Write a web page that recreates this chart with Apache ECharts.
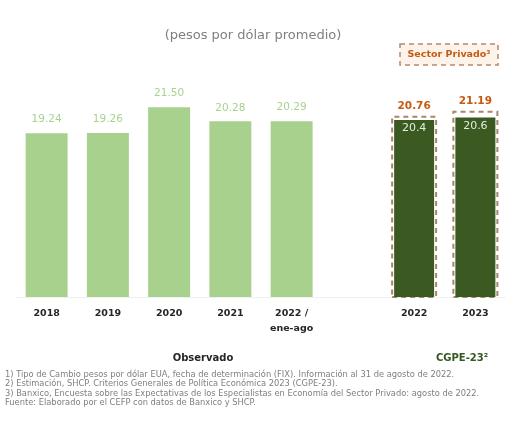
<!DOCTYPE html>
<html>
<head>
<meta charset="utf-8">
<script src="https://cdn.jsdelivr.net/npm/echarts@6/dist/echarts.min.js"></script>
<style>html,body{margin:0;padding:0;background:#fff;}#c{width:506px;height:431px;}</style>
</head>
<body>
<div id="c"></div>
<script>
var categories = ['2018', '2019', '2020', '2021', '2022 /\nene-ago', '', '2022', '2023'];
var observado = [19.24, 19.26, 21.50, 20.28, 20.29, null, null, null];
var sectorPrivado = [null, null, null, null, null, null, 20.76, 21.19];
var cgpe = [null, null, null, null, null, null, 20.4, 20.6];
var footnotes = [
  '1) Tipo de Cambio pesos por dólar EUA, fecha de determinación (FIX). Información al 31 de agosto de 2022.',
  '2) Estimación, SHCP. Criterios Generales de Política Económica 2023 (CGPE-23).',
  '3) Banxico, Encuesta sobre las Expectativas de los Especialistas en Economía del Sector Privado: agosto de 2022.',
  'Fuente: Elaborado por el CEFP con datos de Banxico y SHCP.'
];

var FONT = 'DejaVu Sans';
var chart = echarts.init(document.getElementById('c'), null, {renderer: 'canvas'});

function hiddenX() {
  return {type: 'category', data: categories, show: false, boundaryGap: true};
}

var option = {
  backgroundColor: '#ffffff',
  animation: false,
  textStyle: {fontFamily: FONT},
  title: {
    text: '(pesos por dólar promedio)',
    left: 'center',
    top: 24,
    textStyle: {fontSize: 13, fontWeight: 'normal', color: '#7f7f7f', fontFamily: FONT}
  },
  grid: {left: 16, right: -7, top: 67, bottom: 134},
  xAxis: [
    {
      type: 'category',
      data: categories,
      boundaryGap: true,
      axisLine: {show: true, lineStyle: {color: '#f0f0f0', width: 1}},
      axisTick: {show: false},
      axisLabel: {
        interval: 0, margin: 9, color: '#262626', fontWeight: 'bold', fontSize: 9.5,
        lineHeight: 15, fontFamily: FONT
      }
    },
    hiddenX(),
    hiddenX()
  ],
  yAxis: {type: 'value', min: 5, max: 25, show: false, splitLine: {show: false}},
  series: [
    {
      type: 'bar', name: 'Observado', xAxisIndex: 0, data: observado, barWidth: 42,
      itemStyle: {color: '#a9d18e'},
      label: {show: true, position: 'top', distance: 8, color: '#a9d18e', fontSize: 10.5,
        formatter: function (p) { return p.value.toFixed(2); }}
    },
    {
      type: 'bar', name: 'Sector Privado', xAxisIndex: 1, data: sectorPrivado, barWidth: 46,
      itemStyle: {color: '#ffffff', borderColor: '#a98467', borderWidth: 2, borderType: [5, 4]},
      label: {show: true, position: 'top', distance: 4, color: '#c55a11', fontSize: 10.5, fontWeight: 'bold',
        formatter: function (p) { return p.value.toFixed(2); }}
    },
    {
      type: 'bar', name: 'CGPE-23', xAxisIndex: 2, data: cgpe, barWidth: 40,
      itemStyle: {color: '#3a5a21'},
      label: {show: true, position: 'insideTop', distance: 3, color: '#e2efda', fontSize: 11,
        formatter: function (p) { return p.value.toFixed(1); }}
    }
  ],
  graphic: [
    {type: 'rect', shape: {x: 400, y: 44, width: 98, height: 21},
      style: {fill: '#fdf3ea', stroke: '#b7896a', lineWidth: 1.5, lineDash: [5, 4]}},
    {type: 'text', style: {text: 'Sector Privado³', x: 449, y: 55, fill: '#c55a11',
      font: 'bold 9.5px "DejaVu Sans"', textAlign: 'center', textVerticalAlign: 'middle'}},
    {type: 'text', style: {text: 'Observado', x: 203, y: 358, fill: '#262626',
      font: 'bold 10px "DejaVu Sans"', textAlign: 'center', textVerticalAlign: 'middle'}},
    {type: 'text', style: {text: 'CGPE-23²', x: 462, y: 358, fill: '#375623',
      font: 'bold 10px "DejaVu Sans"', textAlign: 'center', textVerticalAlign: 'middle'}}
  ]
};

footnotes.forEach(function (t, i) {
  option.graphic.push({type: 'text', style: {text: t, x: 5, y: 375 + i * 9.2, fill: '#7f7f7f',
    font: '8.3px "DejaVu Sans"', textAlign: 'left', textVerticalAlign: 'middle'}});
});

chart.setOption(option);
</script>
</body>
</html>
